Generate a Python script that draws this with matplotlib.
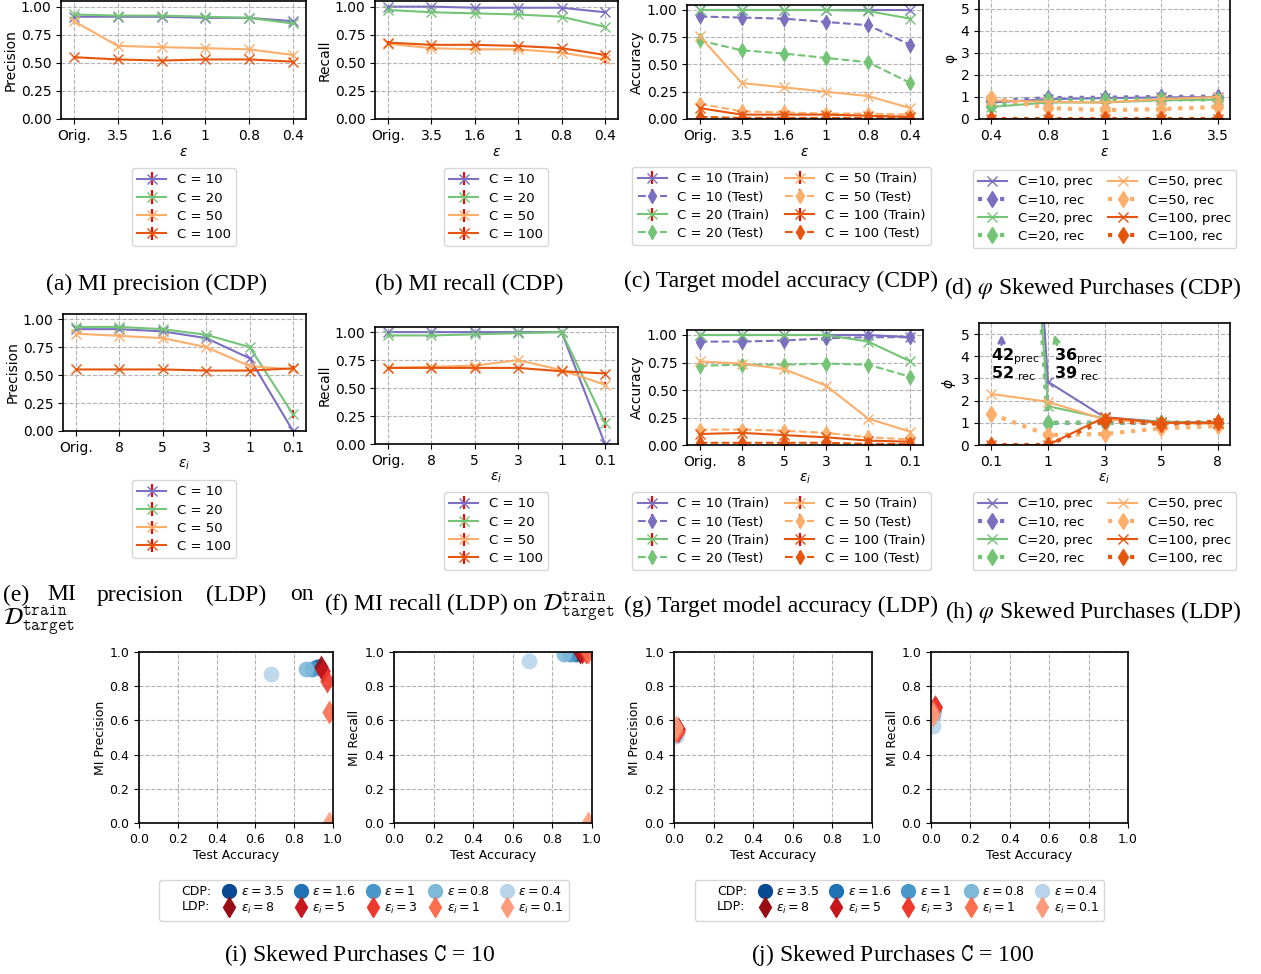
import numpy as np
import matplotlib.pyplot as plt
from matplotlib.lines import Line2D

W, H = 1261, 974

# x tick labels
eps_cdp = ['Orig.', '3.5', '1.6', '1', '0.8', '0.4']
eps_ldp = ['Orig.', '8', '5', '3', '1', '0.1']
phi_cdp_x = ['0.4', '0.8', '1', '1.6', '3.5']
phi_ldp_x = ['0.1', '1', '3', '5', '8']
classes = [10, 20, 50, 100]

# (a) MI precision, CDP
prec_cdp = {10: [0.91, 0.91, 0.91, 0.90, 0.90, 0.87],
            20: [0.93, 0.92, 0.92, 0.91, 0.90, 0.85],
            50: [0.87, 0.65, 0.64, 0.63, 0.62, 0.57],
            100: [0.55, 0.53, 0.52, 0.53, 0.53, 0.51]}
# (b) MI recall, CDP
rec_cdp = {10: [1.00, 1.00, 0.99, 0.99, 0.99, 0.95],
           20: [0.97, 0.95, 0.94, 0.93, 0.91, 0.82],
           50: [0.67, 0.63, 0.62, 0.62, 0.59, 0.53],
           100: [0.68, 0.66, 0.66, 0.65, 0.63, 0.57]}
err_rec_cdp = {10: [0.005, 0.005, 0.005, 0.005, 0.005, 0.01],
               20: [0.005, 0.005, 0.005, 0.005, 0.005, 0.01],
               50: [0.01, 0.01, 0.01, 0.01, 0.01, 0.03],
               100: [0.01, 0.01, 0.01, 0.01, 0.01, 0.02]}
# (c) target model accuracy, CDP
acc_train_cdp = {10: [1.00, 1.00, 1.00, 1.00, 1.00, 1.00],
                 20: [1.00, 1.00, 1.00, 1.00, 0.99, 0.92],
                 50: [0.76, 0.33, 0.29, 0.25, 0.21, 0.10],
                 100: [0.10, 0.04, 0.04, 0.04, 0.03, 0.02]}
acc_test_cdp = {10: [0.94, 0.93, 0.92, 0.89, 0.86, 0.68],
                20: [0.72, 0.63, 0.60, 0.56, 0.52, 0.33],
                50: [0.14, 0.07, 0.06, 0.05, 0.05, 0.04],
                100: [0.02, 0.01, 0.01, 0.01, 0.01, 0.01]}
# (d) phi, CDP
phi_prec_cdp = {10: [0.75, 0.90, 0.95, 0.98, 1.00],
                20: [0.55, 0.75, 0.75, 0.85, 0.88],
                50: [0.85, 0.78, 0.75, 0.90, 1.00],
                100: [0.02, 0.02, 0.02, 0.02, 0.02]}
phi_rec_cdp = {10: [0.80, 0.95, 0.97, 1.00, 1.02],
               20: [0.60, 0.85, 0.88, 0.90, 0.88],
               50: [0.95, 0.50, 0.40, 0.45, 0.55],
               100: [0.02, 0.02, 0.02, 0.02, 0.02]}
# (e) MI precision, LDP
prec_ldp = {10: [0.91, 0.91, 0.89, 0.83, 0.65, 0.00],
            20: [0.93, 0.93, 0.91, 0.86, 0.75, 0.15],
            50: [0.87, 0.85, 0.83, 0.75, 0.58, 0.55],
            100: [0.55, 0.55, 0.55, 0.54, 0.54, 0.56]}
err_prec_ldp = {10: [0.005, 0.005, 0.005, 0.005, 0.01, 0.005],
                20: [0.005, 0.005, 0.005, 0.005, 0.005, 0.035],
                50: [0.005, 0.005, 0.005, 0.005, 0.01, 0.01],
                100: [0.005, 0.005, 0.005, 0.005, 0.005, 0.02]}
# (f) MI recall, LDP
rec_ldp = {10: [1.00, 1.00, 1.00, 1.00, 1.00, 0.00],
           20: [0.97, 0.97, 0.98, 0.99, 1.00, 0.19],
           50: [0.68, 0.69, 0.70, 0.75, 0.66, 0.53],
           100: [0.68, 0.68, 0.68, 0.68, 0.65, 0.63]}
err_rec_ldp = {10: [0.005, 0.005, 0.005, 0.005, 0.005, 0.005],
               20: [0.005, 0.005, 0.005, 0.005, 0.005, 0.045],
               50: [0.01, 0.01, 0.01, 0.01, 0.01, 0.025],
               100: [0.01, 0.01, 0.01, 0.01, 0.01, 0.01]}
# (g) target model accuracy, LDP
acc_train_ldp = {10: [1.00, 1.00, 1.00, 1.00, 1.00, 0.98],
                 20: [1.00, 1.00, 1.00, 1.00, 0.94, 0.76],
                 50: [0.76, 0.74, 0.69, 0.54, 0.24, 0.12],
                 100: [0.10, 0.11, 0.09, 0.07, 0.04, 0.03]}
acc_test_ldp = {10: [0.94, 0.94, 0.95, 0.97, 0.98, 0.98],
                20: [0.72, 0.73, 0.73, 0.74, 0.73, 0.62],
                50: [0.14, 0.14, 0.13, 0.11, 0.07, 0.05],
                100: [0.02, 0.02, 0.02, 0.02, 0.01, 0.01]}
# (h) phi, LDP
phi_prec_ldp = {10: [42, 2.85, 1.25, 1.05, 1.00],
                20: [36, 1.75, 1.20, 1.05, 1.00],
                50: [2.30, 1.95, 1.15, 1.00, 0.95],
                100: [0.00, 0.00, 1.25, 1.00, 1.00]}
phi_rec_ldp = {10: [52, 1.00, 1.00, 1.00, 1.00],
               20: [39, 1.00, 1.00, 1.00, 1.00],
               50: [1.40, 0.45, 0.50, 0.75, 0.85],
               100: [0.00, 0.00, 1.10, 0.95, 1.05]}

err_small = 0.008

colors = {10: '#7b70c0', 20: '#74c476', 50: '#fdae6b', 100: '#e6550d'}
blues = plt.cm.Blues(np.linspace(0.9, 0.3, 5))
reds = plt.cm.Reds(np.linspace(0.9, 0.35, 5))

plt.rcParams['font.size'] = 10
plt.rcParams['axes.linewidth'] = 1.2
plt.rcParams['axes.labelpad'] = 2

fig = plt.figure(figsize=(W / 100, H / 100), dpi=100)


def add_ax(l, t, r, b):
    return fig.add_axes([l / W, 1 - b / H, (r - l) / W, (b - t) / H])


def style(ax):
    ax.grid(True, ls='--', color='0.7', lw=0.8)
    ax.set_axisbelow(True)


def legend_at(ax, handles, labels, cx, top, ncol=1, fs=9.5):
    ax.legend(handles, labels, loc='upper center', ncol=ncol, fontsize=fs,
              bbox_to_anchor=(cx / W, 1 - top / H), bbox_transform=fig.transFigure,
              borderaxespad=0, handlelength=2.2, columnspacing=1.2,
              labelspacing=0.4)


def line_panel(box, xt, data, err, ylabel, xlabel, leg):
    ax = add_ax(*box)
    x = np.arange(len(xt))
    hs = []
    for c in classes:
        e = err[c] if isinstance(err, dict) else err
        h = ax.errorbar(x, data[c], yerr=e, color=colors[c], marker='x', ms=7,
                        lw=1.5, ecolor='red', elinewidth=1.5)
        hs.append(h)
    ax.set_xticks(x)
    ax.set_xticklabels(xt)
    ax.set_xlim(-0.3, len(xt) - 0.7)
    ax.set_ylim(0, 1.05)
    ax.set_yticks([0, 0.25, 0.5, 0.75, 1.0])
    ax.set_ylabel(ylabel)
    ax.set_xlabel(xlabel)
    style(ax)
    legend_at(ax, hs, [f'C = {c}' for c in classes], *leg)
    return ax


def acc_panel(box, xt, train, test, xlabel, leg):
    ax = add_ax(*box)
    x = np.arange(len(xt))
    hs, labs = [], []
    for c in classes:
        h1 = ax.errorbar(x, train[c], yerr=err_small, color=colors[c], marker='x',
                         ms=7, lw=1.5, ecolor='red', elinewidth=1.5)
        h2 = ax.errorbar(x, test[c], yerr=err_small, color=colors[c], marker='d',
                         ms=7, lw=1.5, ls='--', ecolor='red', elinewidth=1.5)
        hs += [h1, h2]
        labs += [f'C = {c} (Train)', f'C = {c} (Test)']
    ax.set_xticks(x)
    ax.set_xticklabels(xt)
    ax.set_xlim(-0.3, len(xt) - 0.7)
    ax.set_ylim(0, 1.05)
    ax.set_yticks([0, 0.25, 0.5, 0.75, 1.0])
    ax.set_ylabel('Accuracy')
    ax.set_xlabel(xlabel)
    style(ax)
    legend_at(ax, hs, labs, *leg, ncol=2)
    return ax


def phi_panel(box, xt, prec, rec, xlabel, ylabel, leg):
    ax = add_ax(*box)
    x = np.arange(len(xt))
    hs, labs = [], []
    for c in classes:
        h1, = ax.plot(x, prec[c], color=colors[c], marker='x', ms=7, lw=1.5)
        h2, = ax.plot(x, rec[c], color=colors[c], marker='d', ms=8, lw=3, ls=':')
        hs += [h1, h2]
        labs += [f'C={c}, prec', f'C={c}, rec']
    ax.set_xticks(x)
    ax.set_xticklabels(xt)
    ax.set_xlim(-0.22, len(xt) - 0.78)
    ax.set_ylim(0, 5.5)
    ax.set_yticks([0, 1, 2, 3, 4, 5])
    ax.set_ylabel(ylabel)
    ax.set_xlabel(xlabel)
    style(ax)
    legend_at(ax, hs, labs, *leg, ncol=2)
    return ax


line_panel((61, 1, 306, 119), eps_cdp, prec_cdp, err_small, 'Precision',
           r'$\varepsilon$', (184, 168))
line_panel((375, 1, 618, 119), eps_cdp, rec_cdp, err_rec_cdp, 'Recall',
           r'$\varepsilon$', (496, 168))
acc_panel((687, 4.5, 923, 119), eps_cdp, acc_train_cdp, acc_test_cdp,
          r'$\varepsilon$', (781.5, 167))
phi_panel((979, -2, 1230, 119), phi_cdp_x, phi_prec_cdp, phi_rec_cdp,
          r'$\varepsilon$', 'φ', (1104.5, 170))

line_panel((63, 313.5, 306, 431), eps_ldp, prec_ldp, err_prec_ldp, 'Precision',
           r'$\varepsilon_i$', (184, 480))
line_panel((375, 326.5, 618, 444), eps_ldp, rec_ldp, err_rec_ldp, 'Recall',
           r'$\varepsilon_i$', (496, 492))
acc_panel((687, 329.5, 923, 445), eps_ldp, acc_train_ldp, acc_test_ldp,
          r'$\varepsilon_i$', (781.5, 492))
axh = phi_panel((979, 323, 1230, 445), phi_ldp_x, phi_prec_ldp, phi_rec_ldp,
                r'$\varepsilon_i$', r'$\phi$', (1104.5, 492))

# annotations for off-scale values in (h)
axh.annotate('', xy=(0.18, 5.1), xytext=(0.18, 4.4),
             arrowprops=dict(arrowstyle='->', color=colors[10], lw=2))
axh.annotate('', xy=(1.1, 5.1), xytext=(1.17, 4.4),
             arrowprops=dict(arrowstyle='->', color=colors[20], lw=2))
for xi, vp, vr in [(0.0, '42', '52'), (1.1, '36', '39')]:
    axh.text(xi, 3.82, rf'$\mathbf{{{vp}}}_{{\mathrm{{prec}}}}$', fontsize=11.5,
             va='baseline')
    axh.text(xi, 3.0, rf'$\mathbf{{{vr}}}_{{\ \mathrm{{rec}}}}$', fontsize=11.5,
             va='baseline')


def scatter_panel(box, sx_cdp, sy_cdp, sx_ldp, sy_ldp, ylabel):
    ax = add_ax(*box)
    for i in range(5):
        ax.scatter(sx_cdp[i], sy_cdp[i], color=blues[i], marker='o', s=130,
                   alpha=0.9, lw=0)
    for i in range(5):
        ax.scatter(sx_ldp[i], sy_ldp[i], color=reds[i], marker='d', s=150,
                   alpha=0.9, lw=0)
    ax.set_xlim(0, 1)
    ax.set_ylim(0, 1)
    ax.set_xticks(np.arange(0, 1.01, 0.2))
    ax.set_yticks(np.arange(0, 1.01, 0.2))
    ax.tick_params(labelsize=9)
    ax.set_xlabel('Test Accuracy', fontsize=9)
    ax.set_ylabel(ylabel, fontsize=9)
    style(ax)
    return ax


def scatter_legend(cx, top):
    blank = Line2D([], [], ls='none')
    hs = [blank, blank]
    labs = ['CDP:', 'LDP:']
    for i in range(5):
        hs += [Line2D([], [], ls='none', marker='o', color=blues[i], ms=10),
               Line2D([], [], ls='none', marker='d', color=reds[i], ms=10)]
        labs += [rf'$\varepsilon = {eps_cdp[i + 1]}$', rf'$\varepsilon_i = {eps_ldp[i + 1]}$']
    fig.legend(hs, labs, ncol=6, loc='upper center', fontsize=9,
               bbox_to_anchor=(cx / W, 1 - top / H), borderaxespad=0,
               handlelength=1.0, handletextpad=0.4, columnspacing=0.9,
               labelspacing=0.2)


for c, boxes, cx in [(10, [(139, 652, 333, 823), (394, 652, 592, 823)], 364),
                     (100, [(674, 652, 872, 823), (931, 652, 1128, 823)], 899.5)]:
    scatter_panel(boxes[0], acc_test_cdp[c][1:], prec_cdp[c][1:],
                  acc_test_ldp[c][1:], prec_ldp[c][1:], 'MI Precision')
    scatter_panel(boxes[1], acc_test_cdp[c][1:], rec_cdp[c][1:],
                  acc_test_ldp[c][1:], rec_ldp[c][1:], 'MI Recall')
    scatter_legend(cx, 880)

# captions
cap = dict(fontsize=17, family='Liberation Serif', math_fontfamily='stix',
           ha='center', va='center')
D = r'$\mathcal{D}^{\mathtt{train}}_{\mathtt{target}}$'


def caption(x, y, s, **kw):
    opts = dict(cap)
    opts.update(kw)
    fig.text(x / W, 1 - y / H, s, **opts)


caption(157, 284, '(a) MI precision (CDP)')
caption(469, 284, '(b) MI recall (CDP)')
caption(781, 281, '(c) Target model accuracy (CDP)')
caption(1093, 288, r'(d) $\varphi$ Skewed Purchases (CDP)')
for word, xw in [('(e)', 3), ('MI', 47), ('precision', 97), ('(LDP)', 206), ('on', 290)]:
    caption(xw, 595, word, ha='left')
caption(3, 621, D, ha='left')
caption(469, 607, '(f) MI recall (LDP) on ' + D)
caption(781, 606, '(g) Target model accuracy (LDP)')
caption(1093, 612, r'(h) $\varphi$ Skewed Purchases (LDP)')
caption(360, 955, r'(i) Skewed Purchases $\mathtt{C}$ = 10')
caption(893, 955, r'(j) Skewed Purchases $\mathtt{C}$ = 100')

fig.savefig('out.png', dpi=100)
